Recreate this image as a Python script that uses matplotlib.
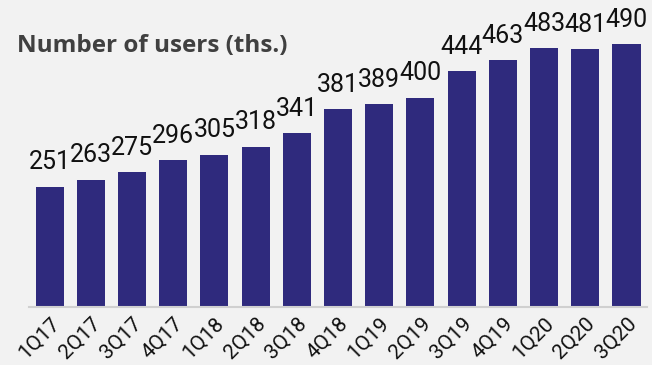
import matplotlib.pyplot as plt

quarters = ["1Q17", "2Q17", "3Q17", "4Q17", "1Q18", "2Q18", "3Q18", "4Q18",
            "1Q19", "2Q19", "3Q19", "4Q19", "1Q20", "2Q20", "3Q20"]
users = [251, 263, 275, 296, 305, 318, 341, 381, 389, 400, 444, 463, 483, 481, 490]

bg = "#f2f2f2"
bar_color = "#2f2a7d"

plt.rcParams["font.family"] = ["Roboto", "DejaVu Sans"]

fig = plt.figure(figsize=(6.52, 3.65), dpi=100, facecolor=bg)
ax = fig.add_axes([0.0445, 0.159, 0.948, 0.786], facecolor=bg)

x = range(len(quarters))
bars = ax.bar(x, users, width=0.68, color=bar_color)

ax.set_xlim(-0.5, len(quarters) - 0.5)
ax.set_ylim(50, 530)

# value labels above each bar
for bar, v in zip(bars, users):
    ax.annotate(f"{v}", (bar.get_x() + bar.get_width() / 2, v),
                xytext=(0, 12.5), textcoords="offset points",
                ha="center", va="baseline", fontsize=18,
                color="#111111")

for side in ["left", "right", "top"]:
    ax.spines[side].set_visible(False)
ax.spines["bottom"].set_color("#d0d0d0")
ax.spines["bottom"].set_linewidth(1.5)

ax.set_yticks([])
ax.set_xticks(list(x))
ax.set_xticklabels(quarters, rotation=45, ha="right", va="top",
                   rotation_mode="anchor", fontsize=15, color="#111111")
ax.tick_params(axis="x", length=0, pad=5)

fig.text(0.026, 0.857, "Number of users (ths.)", fontsize=17.5,
         fontweight="bold", color="#404040", va="baseline",
         family=["Open Sans", "DejaVu Sans"])

fig.savefig("out.png", dpi=100, facecolor=bg)
